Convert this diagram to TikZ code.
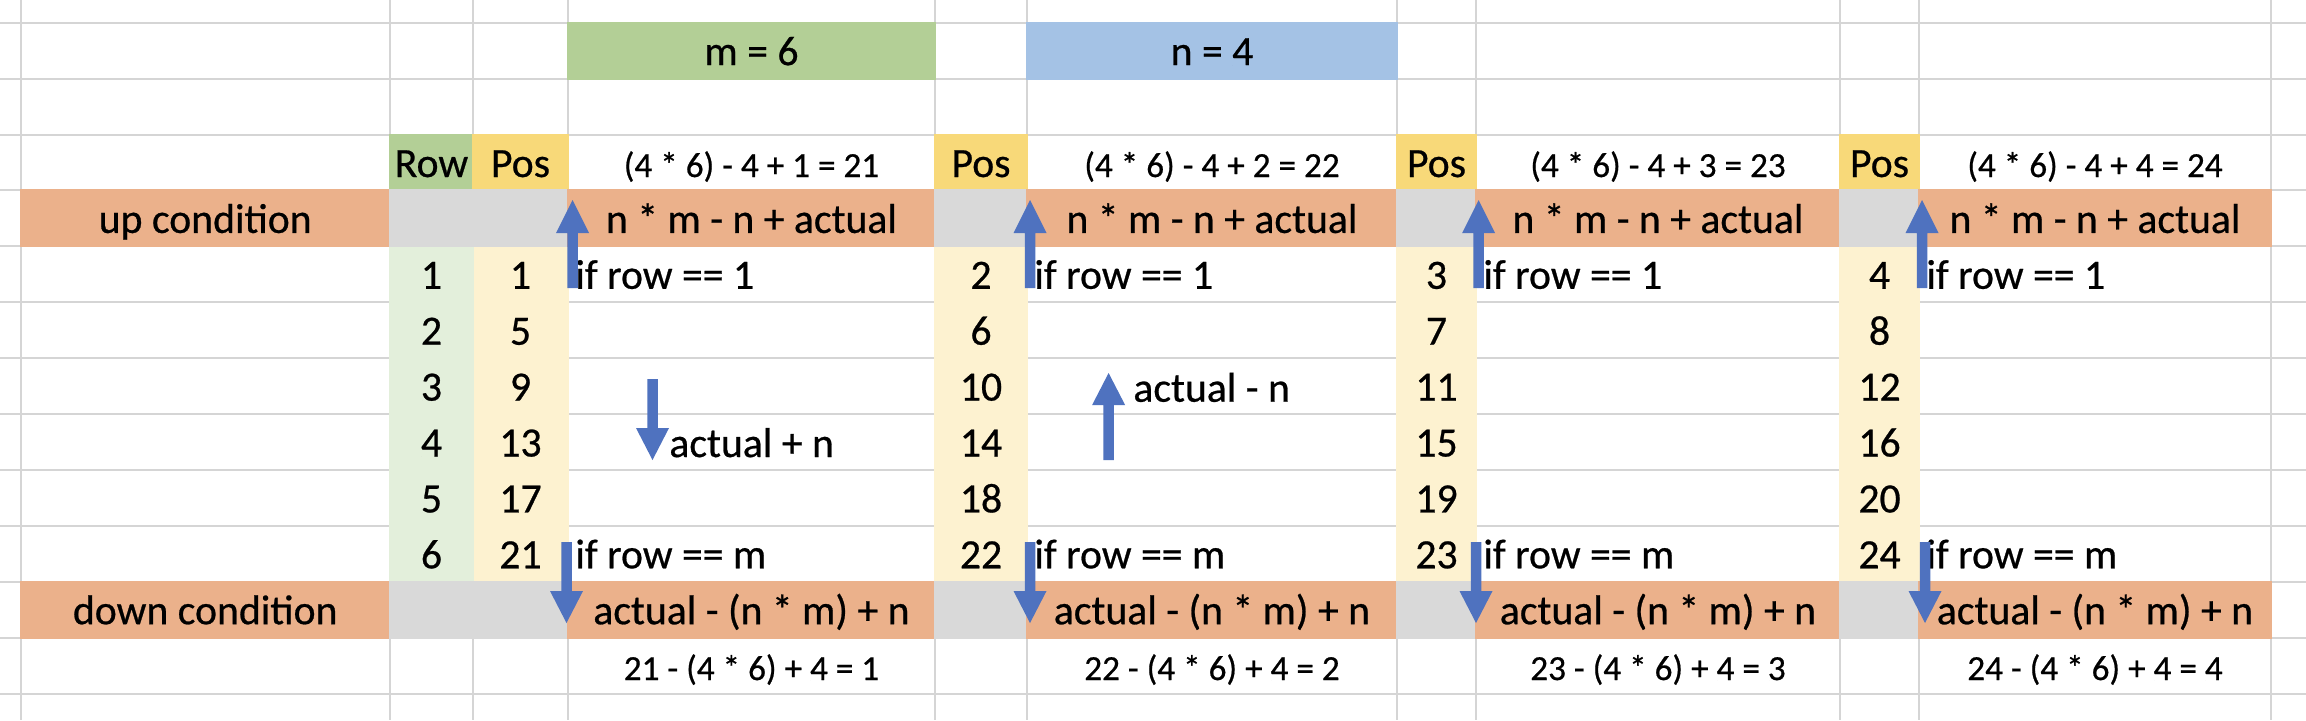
\documentclass[tikz,border=0pt]{standalone}
\usepackage{fontspec}
\setmainfont[FakeBold=0.6]{Carlito}
\definecolor{gridc}{HTML}{D5D5D5}
\definecolor{orng}{HTML}{EBB18B}
\definecolor{grayc}{HTML}{D9D9D9}
\definecolor{grn}{HTML}{B3CF96}
\definecolor{blu}{HTML}{A4C2E5}
\definecolor{yel}{HTML}{F8D979}
\definecolor{lyel}{HTML}{FDF2D0}
\definecolor{lgrn}{HTML}{E3EFDB}
\definecolor{arrc}{HTML}{4F72BF}
% block arrow: x centre, shaft end, head base, tip
\newcommand{\blockarrow}[4]{%
  \fill[arrc] (#1-5.25,#2) -- (#1-5.25,#3) -- (#1-16.5,#3) -- (#1,#4)
    -- (#1+16.5,#3) -- (#1+5.25,#3) -- (#1+5.25,#2) -- cycle;}
\newcommand{\cellfill}[5]{\fill[#1] (#2-1,#3-1) rectangle (#4+1,#5+1);}
\begin{document}
\begin{tikzpicture}[x=0.5pt,y=-0.5pt,
  gridline/.style={draw=gridc,line width=1pt},
  celltxt/.style={font=\fontsize{20.85}{25}\selectfont,inner sep=0pt,anchor=base},
  formtxt/.style={font=\fontsize{17.6}{21}\selectfont,inner sep=0pt,anchor=base},
  lefttxt/.style={celltxt,anchor=base west}]
\useasboundingbox (0,0) rectangle (2306,720);
\fill[white] (0,0) rectangle (2306,720);
% grid
\foreach \y in {22.7,78.6,134.5,190.4,246.3,302.2,358.1,414.0,469.9,525.8,581.7,637.6,693.5}{
  \draw[gridline] (0,\y) -- (2306,\y);
}
\foreach \x in {20.5,390,473,568,935,1027,1397,1476,1840,1919,2271}{
  \draw[gridline] (\x,0) -- (\x,720);
}
% fills
\cellfill{grn}{568}{22.7}{935}{78.6}
\cellfill{blu}{1027}{22.7}{1397}{78.6}
\cellfill{grn}{390}{134.5}{473}{190.4}
\foreach \a/\b in {473/568,935/1027,1397/1476,1840/1919}{
  \cellfill{yel}{\a}{134.5}{\b}{190.4}
  \cellfill{lyel}{\a}{246.3}{\b}{581.7}
}
\cellfill{lgrn}{390}{246.3}{473}{581.7}
\foreach \yt/\yb in {190.4/246.3,581.7/637.6}{
  \cellfill{orng}{20.5}{\yt}{390}{\yb}
  \cellfill{grayc}{390}{\yt}{568}{\yb}
  \cellfill{orng}{568}{\yt}{935}{\yb}
  \cellfill{grayc}{935}{\yt}{1027}{\yb}
  \cellfill{orng}{1027}{\yt}{1397}{\yb}
  \cellfill{grayc}{1397}{\yt}{1476}{\yb}
  \cellfill{orng}{1476}{\yt}{1840}{\yb}
  \cellfill{grayc}{1840}{\yt}{1919}{\yb}
  \cellfill{orng}{1919}{\yt}{2271}{\yb}
}
% texts
\node[celltxt] (mval) at (751.5,65.1) {m = 6};
\node[celltxt] (nval) at (1212,65.1) {n = 4};
\node[celltxt] (rowhdr) at (431.5,177) {Row};
\foreach \cn/\px in {1/520.5,2/981,3/1436.5,4/1879.5}{
  \node[celltxt] (poshdr\cn) at (\px,177) {Pos};
  \foreach \r in {1,...,6}{
    \pgfmathtruncatemacro{\v}{4*(\r-1)+\cn}
    \node[celltxt] (pos\cn-\r) at (\px,{288.8+55.9*(\r-1)}) {\v};
  }
}
\foreach \r in {1,...,6}{
  \node[celltxt] (row\r) at (431.5,{288.8+55.9*(\r-1)}) {\r};
}
\node[celltxt] (upcond) at (205.25,232.9) {up condition};
\node[celltxt] (downcond) at (205.25,624.2) {down condition};
\foreach \cn/\fx/\lx in {1/751.5/575,2/1212/1034,3/1658/1483,4/2095/1926}{
  \pgfmathtruncatemacro{\tv}{20+\cn}
  \node[formtxt] (ftop\cn) at (\fx,177) {(4 * 6) - 4 + {\cn} = {\tv}};
  \node[celltxt] (upf\cn) at (\fx,232.9) {n * m - n + actual};
  \node[lefttxt] (ifa\cn) at (\lx,288.8) {if row == 1};
  \node[lefttxt] (ifm\cn) at (\lx,568.3) {if row == m};
  \node[celltxt] (dnf\cn) at (\fx,624.2) {actual - (n * m) + n};
  \node[formtxt] (fbot\cn) at (\fx,680) {{\tv} - (4 * 6) + 4 = {\cn}};
}
\node[lefttxt] (actplus) at (669,457) {actual + n};
\node[lefttxt] (actminus) at (1133,401.7) {actual - n};
% arrows
\foreach \xc in {572.5,1030,1478.6,1922}{
  \blockarrow{\xc}{288}{233}{200}
}
\foreach \xc in {566.5,1030,1476,1925}{
  \blockarrow{\xc}{542}{591}{623}
}
\blockarrow{652.5}{379}{428}{460}
\blockarrow{1108.6}{460}{405}{373}
\end{tikzpicture}
\end{document}
